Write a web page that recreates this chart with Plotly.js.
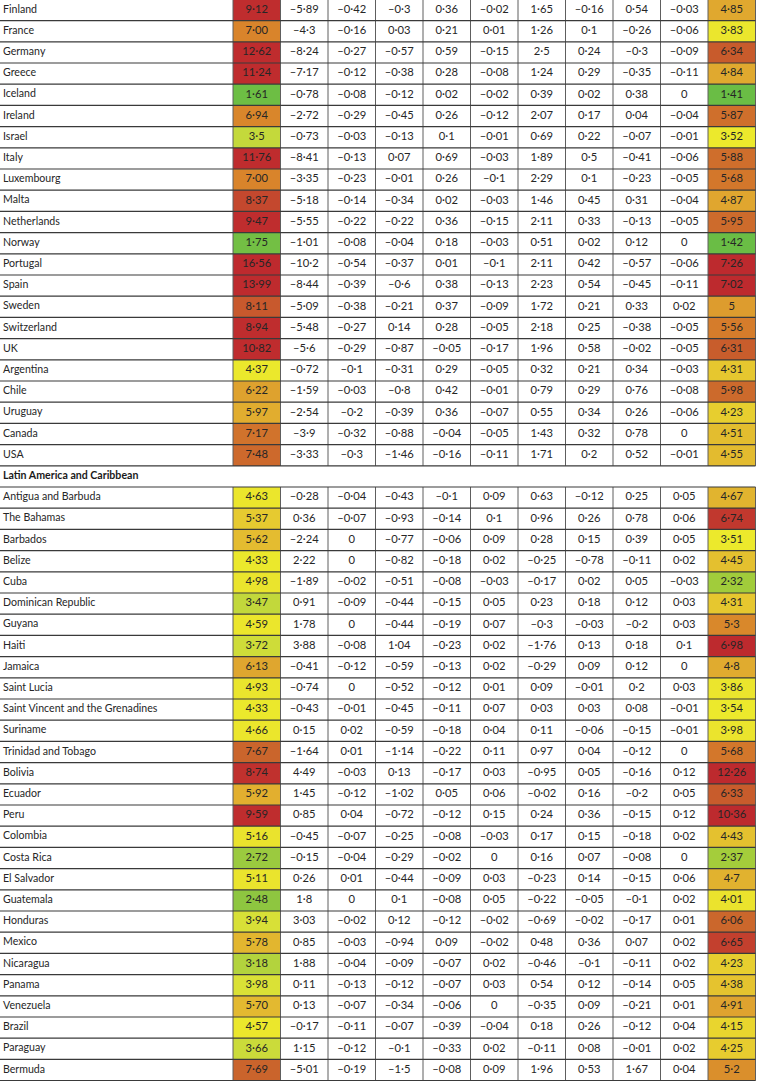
<!DOCTYPE html>
<html>
<head>
<meta charset="utf-8">
<script src="https://cdn.plot.ly/plotly-3.0.1.min.js"></script>
<style>html,body{margin:0;padding:0;background:#fff;}#chart{width:757px;height:1081px;}</style>
</head>
<body>
<div id="chart"></div>
<script>
// ---------- DATA ----------
const sectionLabel = "Latin America and Caribbean";
const rowNames = [
  "Finland","France","Germany","Greece","Iceland","Ireland","Israel","Italy","Luxembourg","Malta",
  "Netherlands","Norway","Portugal","Spain","Sweden","Switzerland","UK","Argentina","Chile","Uruguay",
  "Canada","USA",
  sectionLabel,
  "Antigua and Barbuda","The Bahamas","Barbados","Belize","Cuba","Dominican Republic","Guyana","Haiti",
  "Jamaica","Saint Lucia","Saint Vincent and the Grenadines","Suriname","Trinidad and Tobago","Bolivia",
  "Ecuador","Peru","Colombia","Costa Rica","El Salvador","Guatemala","Honduras","Mexico","Nicaragua",
  "Panama","Venezuela","Brazil","Paraguay","Bermuda"
];
// first (coloured) column, as printed
const col1 = ["9.12","7.00","12.62","11.24","1.61","6.94","3.5","11.76","7.00","8.37",
  "9.47","1.75","16.56","13.99","8.11","8.94","10.82","4.37","6.22","5.97","7.17","7.48",
  null,
  "4.63","5.37","5.62","4.33","4.98","3.47","4.59","3.72","6.13","4.93","4.33","4.66","7.67","8.74",
  "5.92","9.59","5.16","2.72","5.11","2.48","3.94","5.78","3.18","3.98","5.70","4.57","3.66","7.69"];
const col2 = [-5.89,-4.3,-8.24,-7.17,-0.78,-2.72,-0.73,-8.41,-3.35,-5.18,-5.55,-1.01,-10.2,-8.44,-5.09,-5.48,-5.6,-0.72,-1.59,-2.54,-3.9,-3.33,
  null,
  -0.28,0.36,-2.24,2.22,-1.89,0.91,1.78,3.88,-0.41,-0.74,-0.43,0.15,-1.64,4.49,1.45,0.85,-0.45,-0.15,0.26,1.8,3.03,0.85,1.88,0.11,0.13,-0.17,1.15,-5.01];
const col3 = [-0.42,-0.16,-0.27,-0.12,-0.08,-0.29,-0.03,-0.13,-0.23,-0.14,-0.22,-0.08,-0.54,-0.39,-0.38,-0.27,-0.29,-0.1,-0.03,-0.2,-0.32,-0.3,
  null,
  -0.04,-0.07,0,0,-0.02,-0.09,0,-0.08,-0.12,0,-0.01,0.02,0.01,-0.03,-0.12,0.04,-0.07,-0.04,0.01,0,-0.02,-0.03,-0.04,-0.13,-0.07,-0.11,-0.12,-0.19];
const col4 = [-0.3,0.03,-0.57,-0.38,-0.12,-0.45,-0.13,0.07,-0.01,-0.34,-0.22,-0.04,-0.37,-0.6,-0.21,0.14,-0.87,-0.31,-0.8,-0.39,-0.88,-1.46,
  null,
  -0.43,-0.93,-0.77,-0.82,-0.51,-0.44,-0.44,1.04,-0.59,-0.52,-0.45,-0.59,-1.14,0.13,-1.02,-0.72,-0.25,-0.29,-0.44,0.1,0.12,-0.94,-0.09,-0.12,-0.34,-0.07,-0.1,-1.5];
const col5 = [0.36,0.21,0.59,0.28,0.02,0.26,0.1,0.69,0.26,0.02,0.36,0.18,0.01,0.38,0.37,0.28,-0.05,0.29,0.42,0.36,-0.04,-0.16,
  null,
  -0.1,-0.14,-0.06,-0.18,-0.08,-0.15,-0.19,-0.23,-0.13,-0.12,-0.11,-0.18,-0.22,-0.17,0.05,-0.12,-0.08,-0.02,-0.09,-0.08,-0.12,0.09,-0.07,-0.07,-0.06,-0.39,-0.33,-0.08];
const col6 = [-0.02,0.01,-0.15,-0.08,-0.02,-0.12,-0.01,-0.03,-0.1,-0.03,-0.15,-0.03,-0.1,-0.13,-0.09,-0.05,-0.17,-0.05,-0.01,-0.07,-0.05,-0.11,
  null,
  0.09,0.1,0.09,0.02,-0.03,0.05,0.07,0.02,0.02,0.01,0.07,0.04,0.11,0.03,0.06,0.15,-0.03,0,0.03,0.05,-0.02,-0.02,0.02,0.03,0,-0.04,0.02,0.09];
const col7 = [1.65,1.26,2.5,1.24,0.39,2.07,0.69,1.89,2.29,1.46,2.11,0.51,2.11,2.23,1.72,2.18,1.96,0.32,0.79,0.55,1.43,1.71,
  null,
  0.63,0.96,0.28,-0.25,-0.17,0.23,-0.3,-1.76,-0.29,0.09,0.03,0.11,0.97,-0.95,-0.02,0.24,0.17,0.16,-0.23,-0.22,-0.69,0.48,-0.46,0.54,-0.35,0.18,-0.11,1.96];
const col8 = [-0.16,0.1,0.24,0.29,0.02,0.17,0.22,0.5,0.1,0.45,0.33,0.02,0.42,0.54,0.21,0.25,0.58,0.21,0.29,0.34,0.32,0.2,
  null,
  -0.12,0.26,0.15,-0.78,0.02,0.18,-0.03,0.13,0.09,-0.01,0.03,-0.06,0.04,0.05,0.16,0.36,0.15,0.07,0.14,-0.05,-0.02,0.36,-0.1,0.12,0.09,0.26,0.08,0.53];
const col9 = [0.54,-0.26,-0.3,-0.35,0.38,0.04,-0.07,-0.41,-0.23,0.31,-0.13,0.12,-0.57,-0.45,0.33,-0.38,-0.02,0.34,0.76,0.26,0.78,0.52,
  null,
  0.25,0.78,0.39,-0.11,0.05,0.12,-0.2,0.18,0.12,0.2,0.08,-0.15,-0.12,-0.16,-0.2,-0.15,-0.18,-0.08,-0.15,-0.1,-0.17,0.07,-0.11,-0.14,-0.21,-0.12,-0.01,1.67];
const col10 = [-0.03,-0.06,-0.09,-0.11,0,-0.04,-0.01,-0.06,-0.05,-0.04,-0.05,0,-0.06,-0.11,0.02,-0.05,-0.05,-0.03,-0.08,-0.06,0,-0.01,
  null,
  0.05,0.06,0.05,0.02,-0.03,0.03,0.03,0.1,0,0.03,-0.01,-0.01,0,0.12,0.05,0.12,0.02,0,0.06,0.02,0.01,0.02,0.02,0.05,0.01,0.04,0.02,0.04];
const col11 = [4.85,3.83,6.34,4.84,1.41,5.87,3.52,5.88,5.68,4.87,5.95,1.42,7.26,7.02,5,5.56,6.31,4.31,5.98,4.23,4.51,4.55,
  null,
  4.67,6.74,3.51,4.45,2.32,4.31,5.3,6.98,4.8,3.86,3.54,3.98,5.68,12.26,6.33,10.36,4.43,2.37,4.7,4.01,6.06,6.65,4.23,4.38,4.91,4.15,4.25,5.2];

// colour stops (value -> colour) for the two shaded columns
const col1Stops = [[1.5,'#69bd45'],[2.5,'#8fc640'],[3.5,'#c4d93b'],[3.9,'#d6df38'],[4.3,'#ebe82c'],[5.2,'#eae32d'],
  [5.4,'#e5c630'],[6.0,'#e1ac2f'],[6.3,'#dd9e2e'],[7.0,'#d9842b'],[7.2,'#d0702c'],[7.7,'#ca642c'],[8.1,'#c85a2d'],
  [8.4,'#c4462e'],[8.8,'#bf2d2e'],[17,'#be2a2e']];
const col11Stops = [[1.4,'#69bd45'],[2.35,'#a3cc3b'],[3.5,'#ece92c'],[4.0,'#ebe42d'],[4.3,'#e6c72f'],[4.6,'#e2b82f'],
  [4.85,'#e0a82f'],[5.0,'#dd9c2e'],[5.3,'#d9882b'],[5.7,'#d3762b'],[6.0,'#cc692c'],[6.35,'#c85b2c'],[6.7,'#c23b2e'],
  [6.95,'#bd2a2e'],[13,'#bd2a2e']];

// ---------- LAYOUT CONSTANTS ----------
const W = 757, H = 1081;
const nameX = 3;
const gridLeft = 233, colW = 47.5, nCols = 11;
const rowPitch = 21.2, firstRowCenterPx = 10;
const FONT = 'Lato, "Liberation Sans Narrow", sans-serif';
const NAME_SIZE = 10.6;
const NUM_SIZE = 11.2;
const TXT = '#262626';

const nRows = rowNames.length;
const sectionIdx = rowNames.indexOf(sectionLabel);
const yTop = -firstRowCenterPx / rowPitch;
const yBottom = yTop + H / rowPitch;
const rows = rowNames.map((_, i) => i);
const colEdge = j => gridLeft + j * colW;
const colCenter = j => gridLeft + (j + 0.5) * colW;

function fmt(v) {
  if (v === null || v === undefined) return '';
  if (typeof v === 'string') return v.replace('.', '\u00b7');
  if (v === 0) return '0';
  return (v < 0 ? '\u2013' : '') + String(Math.abs(v)).replace('.', '\u00b7');
}
function scaleFrom(stops) {
  const lo = stops[0][0], hi = stops[stops.length - 1][0];
  return { zmin: lo, zmax: hi, colorscale: stops.map(s => [(s[0] - lo) / (hi - lo), s[1]]) };
}

const allCols = [col1, col2, col3, col4, col5, col6, col7, col8, col9, col10, col11];
const traces = [];

// shaded columns
[[0, col1, col1Stops], [10, col11, col11Stops]].forEach(([j, vals, stops]) => {
  const sc = scaleFrom(stops);
  traces.push({
    type: 'heatmap',
    x: [colEdge(j), colEdge(j + 1)],
    y: rows,
    z: vals.map(v => [v === null ? null : parseFloat(v)]),
    zmin: sc.zmin, zmax: sc.zmax, colorscale: sc.colorscale,
    showscale: false, hoverinfo: 'skip', xgap: 0, ygap: 0
  });
});

// vertical rules (not in the section row)
const vx = [], vy = [];
for (let j = 0; j <= nCols; j++) {
  vx.push(colEdge(j), colEdge(j), null, colEdge(j), colEdge(j), null);
  vy.push(-0.5, sectionIdx - 0.5, null, sectionIdx + 0.5, nRows - 0.5, null);
}
traces.push({ type: 'scatter', mode: 'lines', x: vx, y: vy, line: { color: '#5e5e5e', width: 1 }, hoverinfo: 'skip', showlegend: false });

// horizontal rules
const hx = [], hy = [];
for (let i = 0; i <= nRows; i++) { hx.push(0, colEdge(nCols), null); hy.push(i - 0.5, i - 0.5, null); }
traces.push({ type: 'scatter', mode: 'lines', x: hx, y: hy, line: { color: '#3a3a3a', width: 1.2 }, hoverinfo: 'skip', showlegend: false });

// row names
const nameRows = rows.filter(i => i !== sectionIdx);
traces.push({
  type: 'scatter', mode: 'text',
  x: nameRows.map(() => nameX), y: nameRows, text: nameRows.map(i => rowNames[i]),
  textposition: 'middle right', textfont: { family: FONT, size: NAME_SIZE, color: TXT },
  hoverinfo: 'skip', showlegend: false, cliponaxis: false
});
traces.push({
  type: 'scatter', mode: 'text',
  x: [nameX], y: [sectionIdx], text: [sectionLabel],
  textposition: 'middle right', textfont: { family: FONT, size: NAME_SIZE, color: '#1a1a1a', weight: 'bold' },
  hoverinfo: 'skip', showlegend: false, cliponaxis: false
});

// numbers
allCols.forEach((vals, j) => {
  const idx = rows.filter(i => vals[i] !== null);
  traces.push({
    type: 'scatter', mode: 'text',
    x: idx.map(() => colCenter(j)), y: idx, text: idx.map(i => fmt(vals[i])),
    textposition: 'middle center', textfont: { family: FONT, size: NUM_SIZE, color: TXT },
    hoverinfo: 'skip', showlegend: false, cliponaxis: false
  });
});

const layout = {
  width: W, height: H,
  margin: { l: 0, r: 0, t: 0, b: 0, pad: 0 },
  paper_bgcolor: '#ffffff', plot_bgcolor: '#ffffff',
  showlegend: false,
  xaxis: { range: [0, W], visible: false, fixedrange: true },
  yaxis: { range: [yBottom, yTop], visible: false, fixedrange: true }
};

Plotly.newPlot('chart', traces, layout, { staticPlot: true, displayModeBar: false });
</script>
</body>
</html>
